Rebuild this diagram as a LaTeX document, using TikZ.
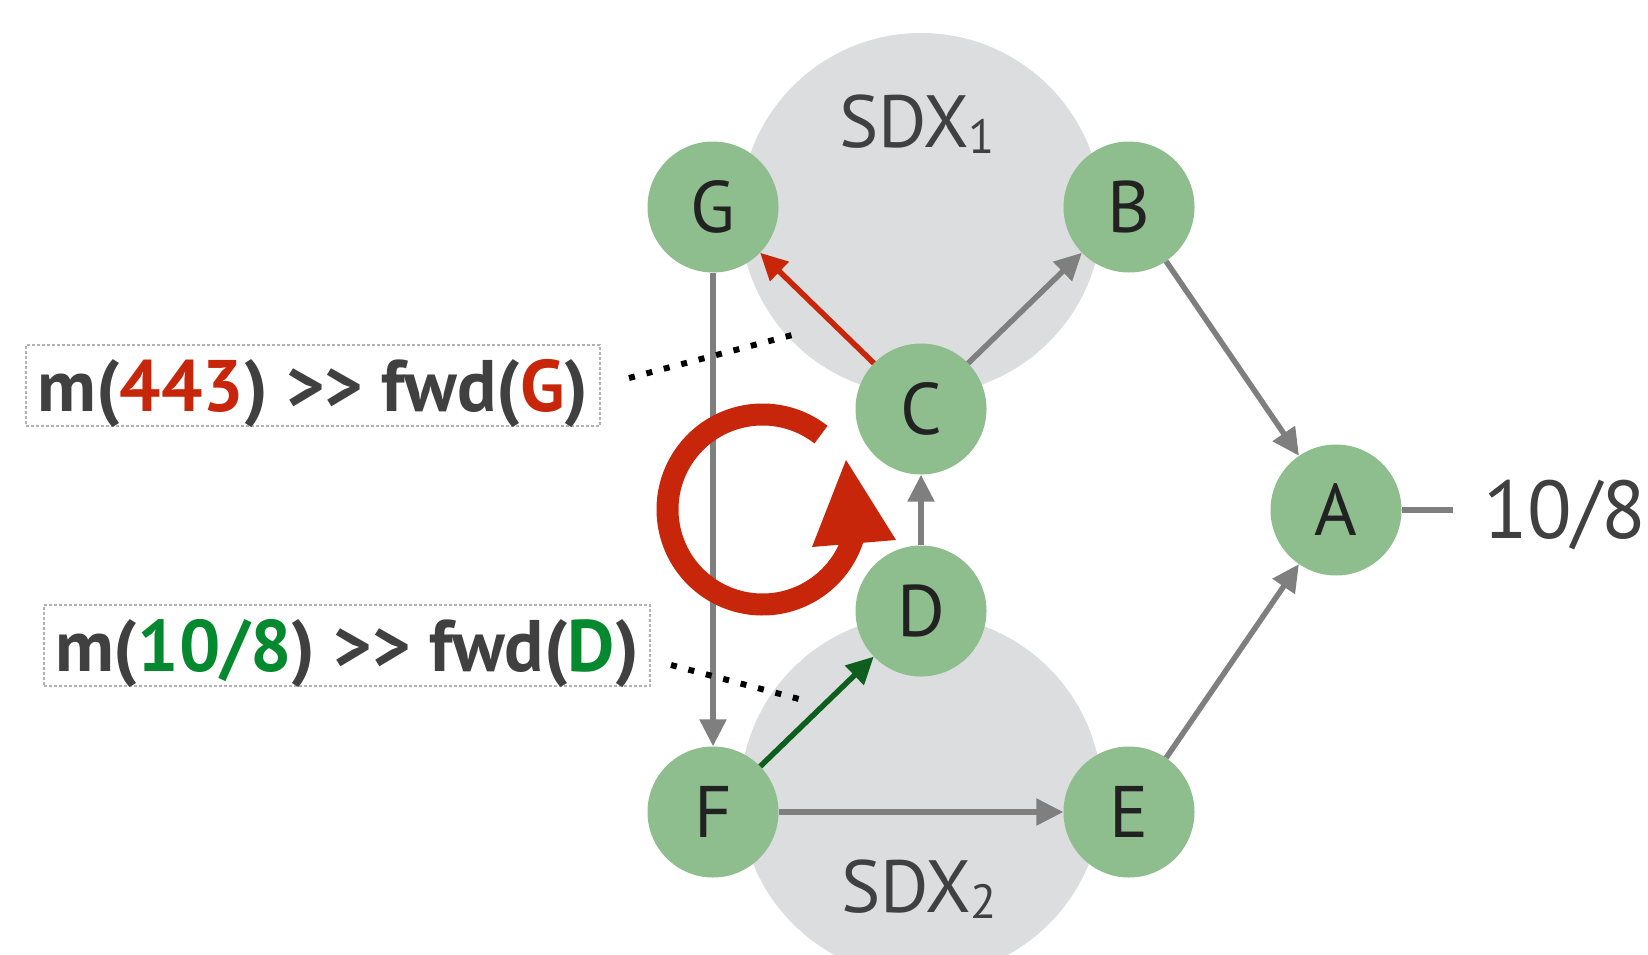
\documentclass[tikz,border=0pt]{standalone}
\usepackage{fontspec}
\setmainfont{PT Sans}
\usetikzlibrary{arrows.meta}
\definecolor{nodefill}{HTML}{8EBD8E}
\definecolor{sdxgray}{HTML}{DCDDDF}
\definecolor{edgegray}{HTML}{7F7F7F}
\definecolor{loopred}{HTML}{C8260A}
\definecolor{txtgreen}{HTML}{05892F}
\definecolor{arrgreen}{HTML}{0E5F1E}
\definecolor{txtdark}{HTML}{404040}
\definecolor{letter}{HTML}{222222}
\tikzset{
  router/.style={circle, fill=nodefill, minimum size=131pt, inner sep=0pt,
    font=\fontsize{73}{73}\selectfont, text=letter},
  link/.style={line width=5.5pt, draw=edgegray, -{Triangle[length=27pt,width=26pt]}},
  plainlink/.style={line width=5.5pt, draw=edgegray},
  redlink/.style={line width=5.5pt, draw=loopred, -{Triangle[length=27pt,width=26pt]}},
  greenlink/.style={line width=5.5pt, draw=arrgreen, -{Triangle[length=27pt,width=26pt]}},
  rulebox/.style={draw=gray!60, densely dashed, line width=1.2pt, inner sep=0pt,
    text height=51pt, text depth=0pt, minimum height=81pt,
    font=\fontsize{73}{73}\selectfont\bfseries, text=txtdark},
  dotline/.style={line width=6pt, draw=black, dash pattern=on 6pt off 12pt},
  sdxlabel/.style={font=\fontsize{74}{74}\selectfont, text=txtdark, inner sep=0pt},
}
\begin{document}
\begin{tikzpicture}[x=1pt,y=-1pt]
\useasboundingbox (0,0) rectangle (1648,955);
\clip (0,0) rectangle (1648,955);
% SDX clouds
\fill[sdxgray] (921,214) circle[radius=181];
\fill[sdxgray] (921,796) circle[radius=181];
\node[sdxlabel, anchor=base] (sdx1) at (917,147) {SDX\raisebox{-6pt}{\fontsize{48}{48}\selectfont 1}};
\node[sdxlabel, anchor=base] (sdx2) at (919,912) {SDX\raisebox{-6pt}{\fontsize{48}{48}\selectfont 2}};
% routers
\node[router] (G) at (713,207) {G};
\node[router] (B) at (1129,207) {B};
\node[router] (C) at (921,409) {C};
\node[router] (D) at (921,611) {D};
\node[router] (A) at (1336,510) {A};
\node[router] (F) at (713,812) {F};
\node[router] (E) at (1129,812) {E};
% links
\draw[link] (G) -- (F);
\draw[redlink] (C) -- (G);
\draw[link] (C) -- (B);
\draw[link] (B) -- (A);
\draw[link] (D) -- (C);
\draw[greenlink] (F) -- (D);
\draw[link] (F) -- (E);
\draw[link] (E) -- (A);
% prefix at A
\node[font=\fontsize{82}{82}\selectfont, text=txtdark, inner sep=0pt, anchor=base west] (pfx) at (1483,538) {10/8};
\draw[plainlink, shorten >=30pt] (A.east) -- (pfx.west |- A.east);
% loop symbol
\draw[loopred, line width=22pt] (762.5,509.5) ++(-52:95) arc[start angle=-52, end angle=-343, radius=95];
\fill[loopred] (846,460) -- (812,547) -- (896,540) -- cycle;
% rule boxes
\node[rulebox, minimum width=574pt] (r1) at (313,385.5) {m(\textcolor{loopred}{443}) {>}{>} fwd(\textcolor{loopred}{G})};
\node[rulebox, minimum width=606pt] (r2) at (347,645.5) {m(\textcolor{txtgreen}{10/8}) {>}{>} fwd(\textcolor{txtgreen}{D})};
% dotted pointers
\coordinate (p1s) at (629,378);
\coordinate (p1e) at (796,334);
\coordinate (p2s) at (671,665);
\coordinate (p2e) at (799,699);
\draw[dotline] (p1s) -- (p1e);
\draw[dotline] (p2s) -- (p2e);
\end{tikzpicture}
\end{document}
